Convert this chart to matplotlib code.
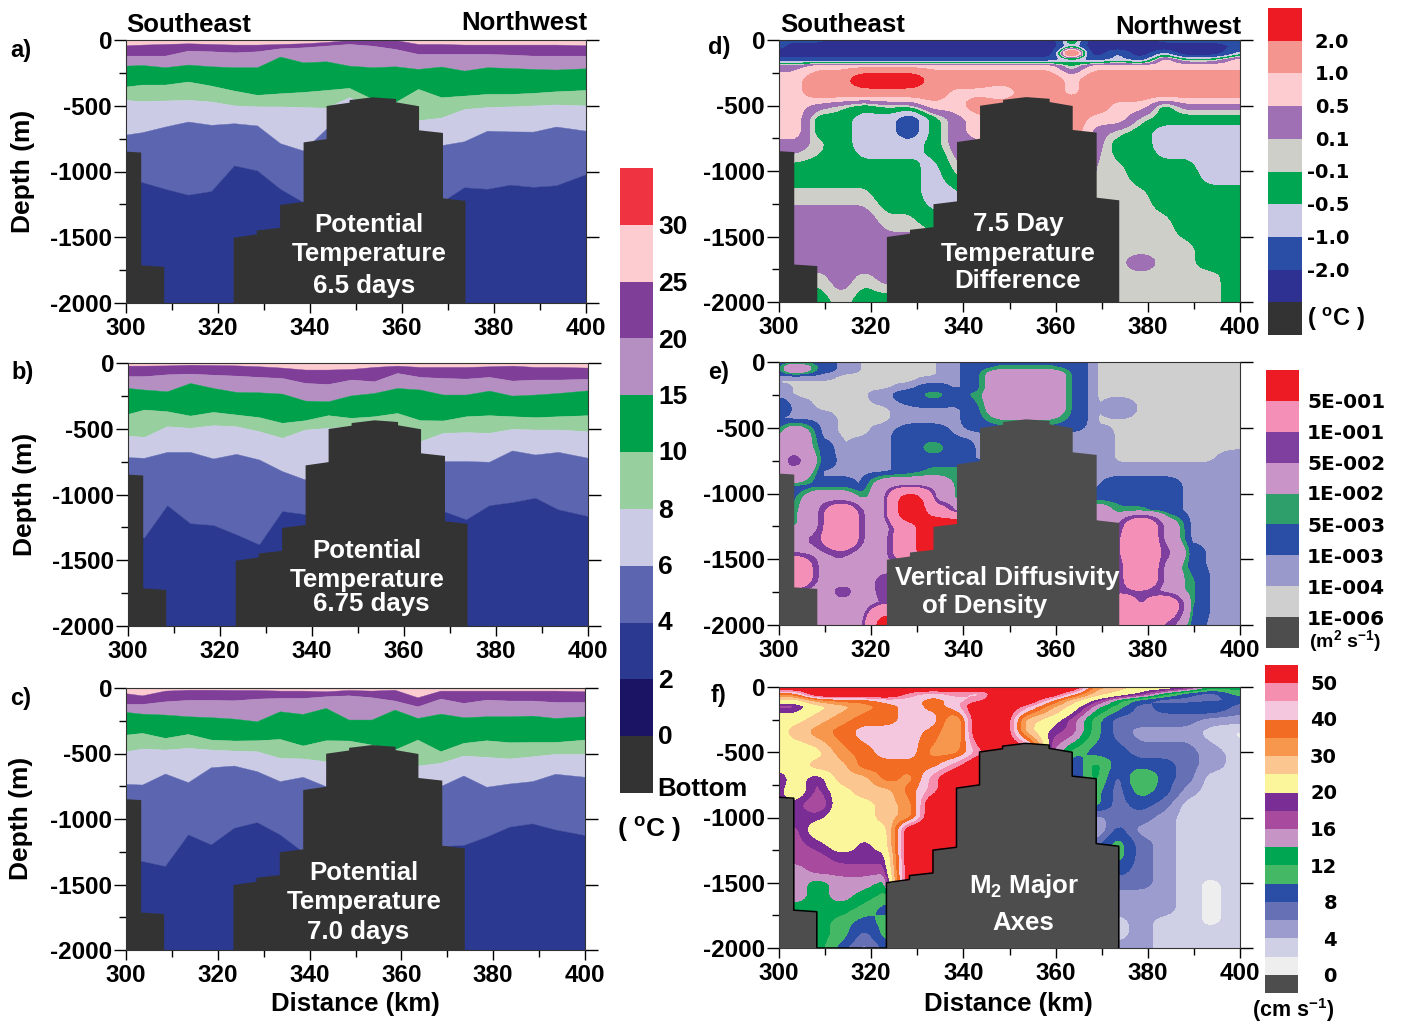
import numpy as np
import matplotlib
matplotlib.use("Agg")
import matplotlib.pyplot as plt
from matplotlib.patches import Rectangle

plt.rcParams['font.family'] = ['Liberation Sans', 'DejaVu Sans']
plt.rcParams['mathtext.fontset'] = 'custom'
plt.rcParams['mathtext.rm'] = 'Liberation Sans:bold'
plt.rcParams['mathtext.bf'] = 'Liberation Sans:bold'
plt.rcParams['mathtext.default'] = 'bf'

W, H = 1413, 1027

STATIONS = [300, 303.5, 308.5, 313.5, 318.5, 323.5, 328.5, 333.5, 338.5, 343.5, 348.5,
            353.5, 358.5, 363.5, 368.5, 373.5, 378.5, 383.5, 388.5, 393.5, 400]

BATHY_X = [300, 303.2, 303.2, 308.2, 308.2, 323.3, 323.3, 328.3, 328.3, 333.4, 333.4, 338.5, 338.5,
           343.5, 343.5, 348.5, 348.5, 353.5, 358.6, 358.6, 363.6, 363.6, 368.8, 368.8, 373.7, 373.7, 400]
BATHY_D = [845, 852, 1710, 1722, 2000, 2000, 1500, 1475, 1445, 1425, 1250, 1228, 775,
           750, 498, 473, 453, 432, 445, 470, 500, 683, 703, 1200, 1220, 2000, 2000]

# isotherm depths (m) at each station: 25, 20, 15, 10, 8, 6, 4 degC
A_T25 = [40,35,30,25,30,35,35,30,25,15,0,0,0,30,30,35,35,35,35,35,40]
A_T20 = [119,119,119,81,86,94,86,63,56,43,30,43,68,106,106,106,106,111,119,119,119]
A_T15 = [195,190,207,187,200,207,207,126,170,162,195,207,200,220,202,233,207,213,220,225,215]
A_T10 = [354,339,339,316,347,385,417,405,395,380,364,448,473,372,435,423,410,410,402,390,380]
A_T8 = [456,465,460,455,468,497,505,505,510,515,435,500,485,610,590,525,510,505,498,490,498]
A_T6 = [719,701,658,620,645,633,650,785,840,675,663,663,700,720,800,770,690,695,697,658,690]
A_T4 = [1068,1081,1132,1177,1149,954,992,1132,1233,1250,1300,1300,1300,1280,1233,1120,1132,1100,1117,1105,1020]

B_T25 = [20,20,18,13,15,18,25,35,50,50,45,30,20,30,30,30,25,20,30,30,35]
B_T20 = [100,100,86,81,89,96,106,114,152,160,126,139,76,106,114,119,106,134,126,126,121]
B_T15 = [190,202,215,152,190,220,223,233,286,291,246,228,190,202,240,240,210,248,240,228,208]
B_T10 = [387,354,367,400,372,392,412,455,435,397,417,405,380,435,437,405,397,405,412,405,397]
B_T8 = [552,562,481,493,473,481,519,569,506,493,481,500,560,595,531,526,531,501,506,506,519]
B_T6 = [716,721,676,676,726,691,734,822,886,785,760,760,720,708,746,746,751,665,696,676,721]
B_T4 = [1300,1328,1082,1219,1232,1303,1380,1126,1150,1150,1150,1150,1150,1150,1126,1189,1082,1058,1025,1113,1164]

C_T25 = [40,56,20,13,13,15,15,20,20,25,15,20,13,71,20,20,20,20,20,20,25]
C_T20 = [122,122,102,91,91,94,81,76,76,63,56,71,96,140,81,114,89,96,96,107,107]
C_T15 = [183,196,203,216,223,234,254,178,198,152,241,241,165,229,196,223,216,216,211,229,216]
C_T10 = [356,343,381,351,394,401,399,389,439,399,401,432,470,394,483,419,399,414,412,412,394]
C_T8 = [483,462,470,457,470,478,483,533,538,559,559,559,559,592,571,516,526,538,521,503,503]
C_T6 = [732,737,653,719,605,592,635,711,678,749,730,720,700,686,749,668,754,729,711,655,678]
C_T4 = [1300,1321,1359,1118,1194,1067,1024,1118,1250,1250,1250,1250,1250,1250,1207,1199,1135,1059,1034,1080,1123]

# colour-band index read at each depth/station, with the band's typical value
D_LEVELS = [-5, -2, -1, -0.5, -0.1, 0.1, 0.5, 1, 2, 5]
D_VALUES = [-3, -1.5, -0.75, -0.3, 0, 0.3, 0.75, 1.5, 3]
D_DEPTHS = [0,50,100,150,200,300,400,500,600,700,800,1000,1200,1400,1600,1700,1800,2000]
D_BANDS = [
 [1,1,1,0,0,0,0,0,0,0,0,0,0,5,0,0,0,1,1,1,1],
 [1,0,0,0,0,0,0,0,0,0,0,0,0,3,0,0,0,0,0,0,1],
 [0,0,0,0,0,0,0,0,0,0,0,0,0,8,0,2,0,2,0,0,2],
 [1,1,1,1,1,1,1,1,1,1,1,1,1,2,1,2,1,6,3,3,6],
 [5,5,6,6,6,6,6,6,6,6,6,6,6,3,6,6,6,6,6,6,6],
 [6,6,7,7,8,8,8,7,7,7,7,7,7,6,7,7,7,7,7,7,7],
 [6,6,7,7,7,7,7,7,6,6,5,7,7,6,7,7,7,7,7,7,7],
 [6,6,5,4,3,4,4,6,6,7,7,7,7,7,7,6,6,3,5,5,5],
 [6,6,3,3,2,2,1,3,5,6,7,7,7,7,6,6,4,3,3,3,3],
 [6,6,3,3,2,2,1,3,5,6,7,7,7,7,5,4,3,2,2,2,2],
 [5,5,4,3,2,2,2,3,5,5,7,7,7,7,5,3,3,2,2,2,2],
 [3,3,3,3,3,3,3,2,4,5,7,7,7,7,4,4,3,3,3,2,2],
 [4,4,4,4,4,3,3,2,2,5,7,7,7,7,4,4,4,3,3,3,3],
 [5,5,5,5,5,4,4,3,3,5,7,7,7,7,4,4,4,4,3,3,3],
 [5,5,5,5,5,5,5,5,5,5,7,7,7,7,4,4,4,4,4,3,3],
 [5,5,5,5,5,5,5,5,5,5,7,7,7,7,4,4,5,4,4,3,3],
 [4,4,4,5,4,5,5,5,5,5,7,7,7,7,4,4,4,4,4,4,3],
 [4,4,3,4,3,3,3,3,3,3,7,7,7,7,4,4,4,4,4,4,3],
]

E_LEVELS = [1e-6, 1e-4, 1e-3, 5e-3, 1e-2, 5e-2, 1e-1, 5e-1, 5]
E_VALUES = [2e-5, 5e-4, 3e-3, 7e-3, 3e-2, 7e-2, 3e-1, 1]
E_DEPTHS = [0,50,100,150,200,250,350,450,550,650,750,850,950,1050,1150,1250,1350,1450,1550,1650,1750,1850,2000]
E_BANDS = [
 [1,2,2,1,0,0,0,0,1,2,2,2,2,2,0,0,0,0,0,0,0],
 [2,4,2,1,0,0,0,0,1,2,3,3,3,2,0,0,0,0,0,0,0],
 [1,1,1,0,0,0,0,0,1,2,4,4,4,2,0,0,0,0,0,0,0],
 [0,0,0,0,0,0,0,1,1,2,4,4,4,2,0,0,0,0,0,0,0],
 [1,0,0,0,0,0,1,2,1,2,4,4,4,2,0,0,0,0,0,0,0],
 [1,0,0,0,0,1,2,3,2,3,4,4,4,2,0,0,0,0,0,0,0],
 [2,1,0,0,0,0,1,1,1,2,4,4,4,2,0,1,0,0,0,0,0],
 [1,1,1,0,0,0,1,1,1,2,3,3,3,2,0,0,0,0,0,0,0],
 [3,4,1,0,0,1,2,2,1,1,1,1,1,1,1,0,0,0,0,0,0],
 [4,4,2,0,1,1,2,3,2,1,1,1,1,1,1,0,0,0,0,0,0],
 [4,5,2,1,1,1,2,2,2,1,1,1,1,1,1,0,0,0,0,0,1],
 [4,4,1,1,1,1,2,3,3,3,1,1,1,1,1,1,1,1,1,1,1],
 [1,1,2,2,1,4,4,4,3,3,1,1,1,1,1,2,2,2,1,1,1],
 [2,2,4,4,3,4,7,4,3,3,2,2,2,2,2,2,2,2,1,1,1],
 [3,3,4,6,4,4,7,6,4,4,2,2,2,2,4,3,3,2,1,1,1],
 [3,3,4,6,4,3,6,7,7,7,4,4,4,4,4,4,6,4,1,1,1],
 [4,4,5,6,4,4,6,7,7,7,4,4,4,4,4,5,6,4,1,1,1],
 [4,4,4,5,3,4,6,7,7,7,4,4,4,4,4,5,6,5,2,1,1],
 [6,6,4,4,3,4,4,4,4,4,4,4,4,4,4,4,6,4,2,1,1],
 [6,6,4,4,4,5,4,4,4,4,4,4,4,4,4,4,6,4,3,1,1],
 [4,4,3,5,4,5,4,4,4,4,4,4,4,4,4,5,5,4,3,1,1],
 [4,4,3,4,3,5,4,4,4,4,4,4,4,4,4,6,5,6,3,1,1],
 [4,4,4,4,3,7,4,4,4,4,4,4,4,4,4,5,6,5,2,1,1],
]

F_LEVELS = [0, 2, 4, 6, 8, 10, 12, 14, 16, 18, 20, 25, 30, 35, 40, 45, 50, 90]
F_VALUES = [1.4, 3, 5, 7, 9, 11, 13, 15, 17, 19, 22.5, 27.5, 32.5, 37.5, 42.5, 47.5, 60]
F_DEPTHS = [0,50,100,150,250,350,500,600,700,800,900,1000,1100,1200,1300,1400,1500,1600,1700,1800,1900,2000]
F_BANDS = [
 [16,16,16,16,16,16,16,16,16,16,16,16,16,16,12,11,10,10,9,6,6],
 [13,13,16,16,16,16,15,14,15,14,16,16,16,14,11,10,9,6,4,3,5],
 [10,10,12,13,13,14,14,13,14,15,16,16,14,11,9,6,4,3,3,3,4],
 [8,8,10,11,12,13,14,13,14,16,16,15,12,10,7,5,3,4,4,5,3],
 [10,10,11,12,13,13,14,14,11,16,16,11,10,8,5,3,3,3,3,2,2],
 [10,11,12,13,14,14,14,13,11,16,16,11,9,8,5,3,2,2,2,1,0],
 [10,9,10,12,13,14,14,12,12,15,16,16,8,5,4,4,3,3,3,2,1],
 [10,10,11,11,13,13,13,13,15,16,16,16,8,3,6,4,4,4,3,2,1],
 [8,10,8,11,11,13,12,15,16,16,16,16,8,3,6,3,6,4,3,1,1],
 [9,10,8,10,11,11,13,15,16,16,16,16,8,3,5,3,5,4,2,1,1],
 [9,9,7,10,10,11,12,16,16,16,16,16,8,3,5,3,4,3,1,1,1],
 [9,9,9,10,10,11,12,16,16,16,16,16,8,3,2,3,3,2,1,1,1],
 [9,8,10,10,10,10,16,16,16,16,16,16,8,3,1,4,2,2,1,1,1],
 [8,8,9,10,9,10,16,16,16,16,16,16,8,3,3,5,3,2,1,1,1],
 [8,8,8,9,9,9,16,16,16,16,16,16,8,3,3,5,3,2,1,1,1],
 [7,7,8,8,8,8,16,16,16,16,16,16,8,3,3,4,3,2,1,1,1],
 [7,7,6,7,7,6,16,16,16,16,16,16,8,3,3,3,3,2,1,0,1],
 [7,7,6,7,6,5,5,5,5,5,5,5,5,5,2,2,2,2,1,0,1],
 [6,6,6,6,5,4,4,4,4,4,4,4,4,4,2,2,2,2,1,0,1],
 [6,6,6,5,4,5,5,5,5,5,5,5,5,5,1,1,2,1,1,0,1],
 [6,6,6,5,3,5,5,5,5,5,5,5,5,5,1,1,2,1,1,1,1],
 [6,6,6,4,2,4,4,4,4,4,4,4,4,4,2,2,2,1,1,1,1],
]

TEMP_COLORS = ['#fcccd0', '#7f3f98', '#b58ec2', '#00a14b', '#98cf9f', '#cbcbe6', '#5c66b0', '#2b3990']
D_COLORS = ['#2e3192', '#2a4ea5', '#c9c9e6', '#00a651', '#cfcfca', '#a070b5', '#fcccd0', '#f4958f', '#ed1c24']
E_COLORS = ['#cfcfcf', '#9999cc', '#2a4ea5', '#2e9e6b', '#c994c7', '#7f3f9f', '#f48fb8', '#ed1c24']
F_COLORS = ['#eeeeee', '#cfd0e6', '#9c9ccf', '#6570b5', '#2a4ea5', '#45b866', '#00a651', '#c795c5',
            '#a84b9f', '#7b2d96', '#fbf59b', '#fbc690', '#f7964d', '#f36c24', '#f5c7de', '#f48fb0', '#ed1c24']

TEMP_CB = ['#ef3340', '#fcccd0', '#7f3f98', '#b58ec2', '#00a14b', '#98cf9f', '#cbcbe6', '#5c66b0', '#2b3990', '#1b1464', '#333333']
TEMP_CB_LABELS = ['30', '25', '20', '15', '10', '8', '6', '4', '2', '0']
D_CB_LABELS = ['2.0', '1.0', '0.5', '0.1', '-0.1', '-0.5', '-1.0', '-2.0']
E_CB_LABELS = ['5E-001', '1E-001', '5E-002', '1E-002', '5E-003', '1E-003', '1E-004', '1E-006']
F_CB_LABELS = ['50', '40', '30', '20', '16', '12', '8', '4', '0']

DARK1 = '#333333'
DARK2 = '#4d4d4d'

fig = plt.figure(figsize=(W / 100, H / 100), dpi=100, facecolor='white')


def text(x, y, s, size=17, ha='left', color='black', rotation=0, family=None):
    kw = {'family': family} if family else {}
    fig.text(x / W, 1 - (y + 1.5) / H, s, fontsize=size, fontweight='bold', ha=ha, va='center',
             color=color, rotation=rotation, zorder=20, **kw)


def make_axes(x0, x1, y0, y1):
    ax = fig.add_axes([x0 / W, 1 - y1 / H, (x1 - x0) / W, (y1 - y0) / H])
    ax.set_xlim(300, 400)
    ax.set_ylim(-2000, 0)
    ax.set_xticks(range(300, 401, 20))
    ax.set_xticks(range(310, 400, 20), minor=True)
    ax.set_yticks(range(-2000, 1, 500))
    ax.set_yticks(range(-1750, 0, 500), minor=True)
    ax.set_xticklabels([str(v) for v in range(300, 401, 20)])
    ax.set_yticklabels([str(v) for v in range(-2000, 1, 500)])
    ax.tick_params(axis='x', which='major', length=7, width=1, direction='out', pad=3)
    ax.tick_params(axis='x', which='minor', length=5, width=1, direction='out')
    ax.tick_params(axis='y', which='major', length=9, width=1, direction='out', right=True, pad=1)
    ax.tick_params(axis='y', which='minor', length=5, width=1, direction='out')
    for lab in ax.get_xticklabels() + ax.get_yticklabels():
        lab.set_fontsize(17.5)
        lab.set_fontweight('bold')
    for s in ax.spines.values():
        s.set_linewidth(0.8)
        s.set_color('#333333')
    return ax


def draw_bathy(ax, color, outline=False):
    ax.fill_between(BATHY_X, -np.array(BATHY_D), -2000, color=color, lw=0, zorder=5)
    if outline:
        ax.plot(BATHY_X[:26], -np.array(BATHY_D[:26]), color='black', lw=1.1, zorder=6)


def temp_panel(ax, isotherms):
    bounds = [np.zeros(len(STATIONS))] + [np.array(v, float) for v in isotherms] + [np.full(len(STATIONS), 2000.0)]
    for i, col in enumerate(TEMP_COLORS):
        ax.fill_between(STATIONS, -bounds[i], -bounds[i + 1], color=col, lw=0.3, zorder=2)
    draw_bathy(ax, DARK1)


def soften(axis_values, z, axis, n=8, k=5):
    # rounds the contour corners: finer grid along one axis and a short running mean
    m = z.shape[axis]
    coarse = np.arange(m)
    fine = np.linspace(0, m - 1, (m - 1) * n + 1)
    out = np.apply_along_axis(lambda v: np.interp(fine, coarse, v), axis, z)
    pad = k // 2
    def running(v):
        return np.convolve(np.pad(v, pad, mode='edge'), np.ones(k) / k, mode='valid')
    out = np.apply_along_axis(running, axis, out)
    return np.interp(fine, coarse, axis_values), out


def band_panel(ax, depths, bands, values, levels, colors):
    z = np.array(values, float)[np.array(bands)]
    fx, z = soften(np.array(STATIONS, float), z, 1)
    fy, z = soften(np.array(depths, float), z, 0)
    ax.contourf(fx, -fy, z, levels=levels, colors=colors, zorder=2)


def colorbar(x0, x1, y0, y1, colors):
    n = len(colors)
    h = (y1 - y0) / n
    for i, c in enumerate(colors):
        fig.add_artist(Rectangle((x0 / W, 1 - (y0 + (i + 1) * h) / H), (x1 - x0) / W, h / H,
                                 transform=fig.transFigure, facecolor=c, edgecolor='none'))


ax_a = make_axes(126, 586, 40, 303)
temp_panel(ax_a, [A_T25, A_T20, A_T15, A_T10, A_T8, A_T6, A_T4])
ax_b = make_axes(128, 588, 363, 626)
temp_panel(ax_b, [B_T25, B_T20, B_T15, B_T10, B_T8, B_T6, B_T4])
ax_c = make_axes(126, 585, 688, 950)
temp_panel(ax_c, [C_T25, C_T20, C_T15, C_T10, C_T8, C_T6, C_T4])

ax_d = make_axes(779, 1240, 40, 302)
band_panel(ax_d, D_DEPTHS, D_BANDS, D_VALUES, D_LEVELS, D_COLORS)
draw_bathy(ax_d, DARK1)
ax_e = make_axes(779, 1240, 362, 625)
band_panel(ax_e, E_DEPTHS, E_BANDS, E_VALUES, E_LEVELS, E_COLORS)
draw_bathy(ax_e, DARK2)
ax_f = make_axes(779, 1240, 687, 948)
band_panel(ax_f, F_DEPTHS, F_BANDS, F_VALUES, F_LEVELS, F_COLORS)
draw_bathy(ax_f, DARK2, outline=True)

# colour bars
colorbar(620, 653, 168, 793, TEMP_CB)
colorbar(1268, 1302, 8, 335, D_COLORS[::-1] + [DARK1])
colorbar(1266, 1299, 370, 648, E_COLORS[::-1] + [DARK2])
colorbar(1265, 1298, 665, 993, F_COLORS[::-1] + [DARK2])

for lab, y in zip(TEMP_CB_LABELS, [225, 282, 339, 395, 452, 509, 566, 622, 679, 736]):
    text(658, y, lab, size=19)
text(657, 787, 'Bottom', size=18.5)
text(617, 828, '( $^{o}$C )', size=19)

for lab, y in zip(D_CB_LABELS, [41, 73, 106, 139, 171, 204, 237, 270]):
    text(1349, y, lab, size=14, ha='right', family='DejaVu Sans')
text(1307, 318, '( $^{o}$C )', size=17)

for lab, y in zip(E_CB_LABELS, [401, 432, 463, 493, 525, 556, 587, 618]):
    text(1307, y, lab, size=14.5, family='DejaVu Sans')
text(1309, 640, '(m$^{2}$ s$^{-1}$)', size=14)

for lab, y in zip(F_CB_LABELS, [683, 719, 756, 792, 829, 866, 902, 939, 975]):
    text(1337, y, lab, size=14, ha='right', family='DejaVu Sans')
text(1252, 1009, '(cm s$^{-1}$)', size=15.5)

# panel letters and headers
for s, x, y in [('a)', 10, 49), ('b)', 11, 371), ('c)', 10, 697), ('d)', 708, 46), ('e)', 708, 371), ('f)', 711, 694)]:
    text(x, y, s, size=17)
text(126, 23, 'Southeast', size=18.5)
text(587, 21, 'Northwest', size=18.5, ha='right')
text(780, 23, 'Southeast', size=18.5)
text(1241, 26, 'Northwest', size=18.5, ha='right')

for x, y in [(23, 170), (25, 493), (21, 817)]:
    text(x, y, 'Depth (m)', size=19, ha='center', rotation=90)
text(355, 1003, 'Distance (km)', size=18.5, ha='center')
text(1008, 1003, 'Distance (km)', size=18.5, ha='center')

# labels inside the bathymetry
for s, x, y in [('Potential', 369, 224), ('Temperature', 369, 253), ('6.5 days', 364, 284),
                ('Potential', 367, 549), ('Temperature', 367, 578), ('6.75 days', 371, 603),
                ('Potential', 364, 871), ('Temperature', 364, 900), ('7.0 days', 358, 930),
                ('7.5 Day', 1018, 223), ('Temperature', 1018, 252), ('Difference', 1018, 280),
                ('Vertical Diffusivity', 1007, 576), ('of Density', 985, 605),
                ('M$_{2}$ Major', 1024, 884), ('Axes', 1023, 922)]:
    text(x, y, s, size=18.6, ha='center', color='white')

fig.savefig('out.png', dpi=100)
